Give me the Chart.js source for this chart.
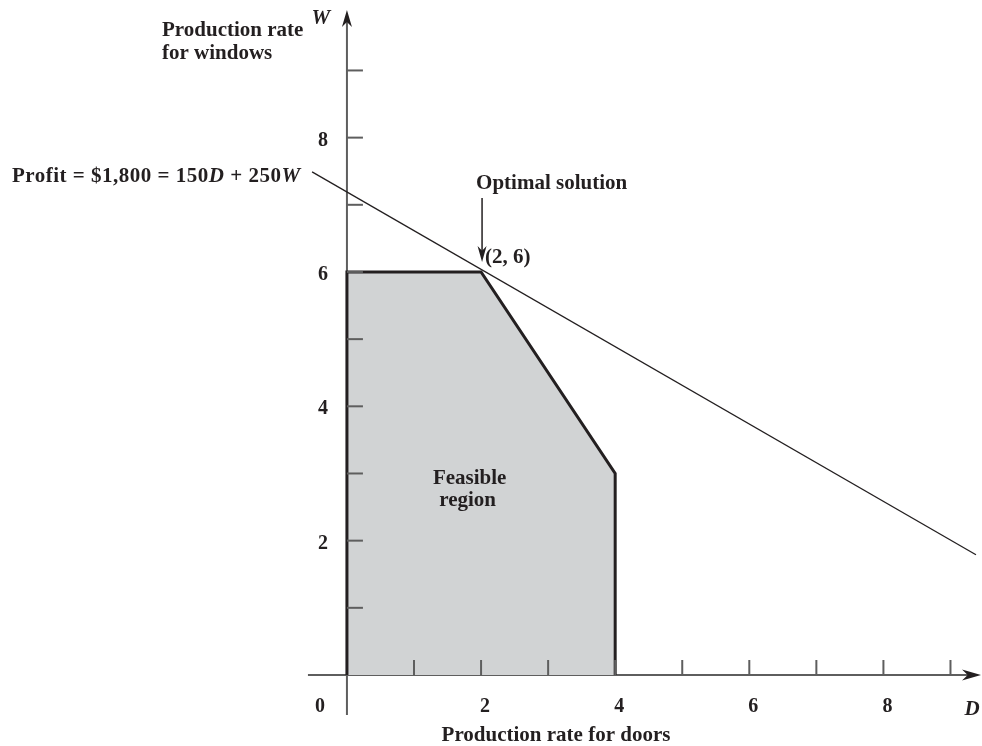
<!DOCTYPE html>
<html>
<head>
<meta charset="utf-8">
<script src="https://cdn.jsdelivr.net/npm/chart.js@4"></script>
<style>
  html, body { margin: 0; padding: 0; background: #ffffff; }
  #wrap { width: 982px; height: 746px; position: relative; }
</style>
</head>
<body>
<div id="wrap"><canvas id="c"></canvas></div>
<script>
// ---- data ----
const feasibleD = [0, 0, 2, 4, 4];
const feasibleW = [0, 6, 6, 3, 0];
const profitD = [-0.52, 9.38];
const profitW = [7.49, 1.79];
const optimalPoint = [2, 6];
const xTickValues = [1, 2, 3, 4, 5, 6, 7, 8, 9];
const yTickValues = [1, 2, 3, 4, 5, 6, 7, 8, 9];
const xLabelValues = [0, 2, 4, 6, 8];
const xLabelTexts = ['0', '2', '4', '6', '8'];
const yLabelValues = [2, 4, 6, 8];
const yLabelTexts = ['2', '4', '6', '8'];
const xAxisTitle = 'Production rate for doors';
const yAxisTitle = ['Production rate', 'for windows'];
const xVarName = 'D';
const yVarName = 'W';
const regionLabel = ['Feasible', 'region'];
const optimalLabel = 'Optimal solution';
const optimalCoordText = '(2, 6)';
const profitLabelParts = [['Profit = $1,800 = 150', false], ['D', true], [' + 250', false], ['W', true]];

const INK = '#231f20';
const AXIS = '#5e5e5e';
const FONT = '"Liberation Serif", "Times New Roman", serif';

function font(size, italic) {
  return (italic ? 'italic ' : '') + 'bold ' + size + 'px ' + FONT;
}

function arrowHead(ctx, tx, ty, dx, dy, len, half) {
  const nx = -dy, ny = dx;
  const bx = tx - dx * len, by = ty - dy * len;
  const mx = tx - dx * len * 0.7, my = ty - dy * len * 0.7;
  ctx.beginPath();
  ctx.moveTo(tx, ty);
  ctx.lineTo(bx + nx * half, by + ny * half);
  ctx.lineTo(mx, my);
  ctx.lineTo(bx - nx * half, by - ny * half);
  ctx.closePath();
  ctx.fill();
}

const axesPlugin = {
  id: 'axesPlugin',
  beforeDatasetsDraw(chart) {
    const ctx = chart.ctx;
    const xs = chart.scales.x, ys = chart.scales.y;
    const x0 = xs.getPixelForValue(0), y0 = ys.getPixelForValue(0);
    ctx.save();
    ctx.strokeStyle = AXIS;
    ctx.fillStyle = INK;
    ctx.lineWidth = 2;
    const xEnd = xs.right - 1;
    ctx.beginPath();
    ctx.moveTo(x0 - 39, y0);
    ctx.lineTo(xEnd - 12, y0);
    ctx.stroke();
    arrowHead(ctx, xEnd, y0, 1, 0, 19, 5.5);
    const yTop = ys.top;
    ctx.beginPath();
    ctx.moveTo(x0, y0 + 40);
    ctx.lineTo(x0, yTop + 12);
    ctx.stroke();
    arrowHead(ctx, x0, yTop, 0, -1, 17, 5);
    ctx.restore();
  },
  afterDatasetsDraw(chart) {
    const ctx = chart.ctx;
    const xs = chart.scales.x, ys = chart.scales.y;
    const x0 = xs.getPixelForValue(0), y0 = ys.getPixelForValue(0);
    ctx.save();
    ctx.strokeStyle = AXIS;
    ctx.lineWidth = 2;
    xTickValues.forEach(v => {
      const px = xs.getPixelForValue(v);
      ctx.beginPath();
      ctx.moveTo(px, y0);
      ctx.lineTo(px, y0 - 15);
      ctx.stroke();
    });
    yTickValues.forEach(v => {
      const py = ys.getPixelForValue(v);
      ctx.beginPath();
      ctx.moveTo(x0, py);
      ctx.lineTo(x0 + 16, py);
      ctx.stroke();
    });

    ctx.fillStyle = INK;
    ctx.font = font(20, false);
    ctx.textAlign = 'center';
    ctx.textBaseline = 'alphabetic';
    xLabelValues.forEach((v, i) => {
      const px = v === 0 ? x0 - 27 : xs.getPixelForValue(v) + 4;
      ctx.fillText(xLabelTexts[i], px, y0 + 37);
    });
    yLabelValues.forEach((v, i) => {
      ctx.fillText(yLabelTexts[i], x0 - 24, ys.getPixelForValue(v) + 8);
    });
    ctx.font = font(21, true);
    ctx.fillText(xVarName, xs.right - 10, y0 + 40);
    ctx.fillText(yVarName, x0 - 26, ys.top + 14);

    ctx.font = font(21, false);
    ctx.textAlign = 'center';
    ctx.fillText(xAxisTitle, 556, 741);
    ctx.textAlign = 'left';
    ctx.fillText(yAxisTitle[0], 162, 36);
    ctx.fillText(yAxisTitle[1], 162, 59);

    ctx.letterSpacing = '0.5px';
    let tx = 12;
    profitLabelParts.forEach(([t, it]) => {
      ctx.font = font(21, it);
      ctx.fillText(t, tx, 182);
      tx += ctx.measureText(t).width;
    });
    ctx.letterSpacing = '0px';

    ctx.font = font(21, false);
    ctx.textAlign = 'center';
    const fx = xs.getPixelForValue(1.83);
    ctx.fillText(regionLabel[0], fx, ys.getPixelForValue(2.95) + 7);
    ctx.fillText(regionLabel[1], fx - 2, ys.getPixelForValue(2.62) + 7);

    const ox = xs.getPixelForValue(optimalPoint[0]) + 1;
    const oy = ys.getPixelForValue(optimalPoint[1]);
    ctx.textAlign = 'left';
    ctx.fillText(optimalLabel, ox - 6, oy - 83);
    ctx.strokeStyle = INK;
    ctx.lineWidth = 1.5;
    ctx.beginPath();
    ctx.moveTo(ox, oy - 74);
    ctx.lineTo(ox, oy - 20);
    ctx.stroke();
    arrowHead(ctx, ox, oy - 10, 0, 1, 16, 4.5);
    ctx.fillText(optimalCoordText, ox + 3, oy - 9);
    ctx.restore();
  }
};

const chart = new Chart(document.getElementById('c'), {
  type: 'scatter',
  data: {
    datasets: [
      {
        label: 'Feasible region',
        data: feasibleD.map((d, i) => ({ x: d, y: feasibleW[i] })),
        showLine: true,
        fill: 'origin',
        backgroundColor: '#d1d3d4',
        borderColor: INK,
        borderWidth: 3,
        pointRadius: 0,
        tension: 0,
        borderJoinStyle: 'miter',
        order: 2
      },
      {
        label: 'Profit line',
        data: profitD.map((d, i) => ({ x: d, y: profitW[i] })),
        showLine: true,
        fill: false,
        borderColor: INK,
        borderWidth: 1.3,
        pointRadius: 0,
        order: 1
      }
    ]
  },
  options: {
    responsive: true,
    maintainAspectRatio: false,
    animation: false,
    layout: { padding: { left: 300, right: 0, top: 10, bottom: 26 } },
    plugins: { legend: { display: false }, tooltip: { enabled: false } },
    scales: {
      x: { type: 'linear', display: false, min: -0.70, max: 9.47 },
      y: { type: 'linear', display: false, min: -0.67, max: 9.90 }
    }
  },
  plugins: [axesPlugin]
});
</script>
</body>
</html>
